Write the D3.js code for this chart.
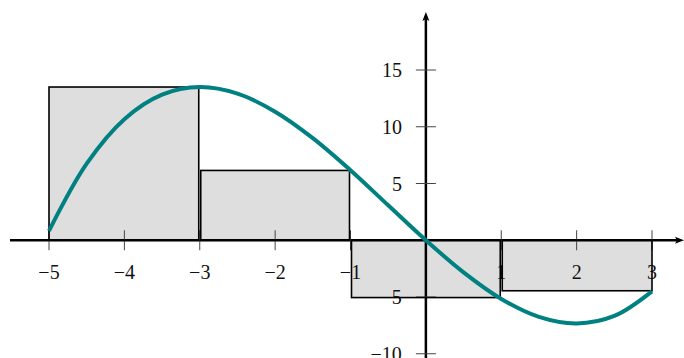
<!DOCTYPE html>
<html>
  <head>
    <meta charset='utf-8' />
    <title>Right Riemann sum</title>
    <style>
      body { margin: 0; background: white; }
      svg { display: block; }
    </style>
  </head>
<body>
  <svg id="chart" width="684" height="358"></svg>

  <script src="https://d3js.org/d3.v7.min.js"></script>
  <script>
    // curve samples
    const curveX = [-5, -4.5, -4, -3.5, -3, -2.5, -2, -1.5, -1, -0.5, 0, 0.5, 1, 1.5, 2, 2.5, 3];
    const curveY = [0.83, 6.75, 10.67, 12.83, 13.5, 12.92, 11.33, 9.0, 6.17, 3.08, 0, -2.83, -5.17, -6.75, -7.33, -6.67, -4.5];

    // rectangles
    const barStart = [-5, -3, -1, 1];
    const barEnd = [-3, -1, 1, 3];
    const barHeight = [13.5, 6.15, -5.05, -4.45];

    const xTicks = [-5, -4, -3, -2, -1, 1, 2, 3];
    const yTicks = [-10, -5, 5, 10, 15];

    const labelFont = "'Liberation Serif', 'Times New Roman', serif";

    const svg = d3.select("#chart");

    const xScale = d3.scaleLinear().domain([-5, 3]).range([49, 652]);
    const yScale = d3.scaleLinear().domain([-5, 15]).range([297, 70]);
    const x0 = xScale(0), y0 = yScale(0);

    const bars = barStart.map((s, i) => ({ s: s, e: barEnd[i], h: barHeight[i], i: i }));

    // left/right inset so neighbouring boxes show a double edge
    const bx = d => xScale(d.s) + (d.i > 0 ? 1 : 0);
    const bw = d => xScale(d.e) - (d.i < bars.length - 1 ? 1 : 0) - bx(d);
    const by = d => Math.min(yScale(d.h), y0);
    const bh = d => Math.abs(yScale(d.h) - y0);

    // fills first
    svg.append("g").selectAll("rect")
      .data(bars)
      .enter()
      .append("rect")
      .attr("x", bx)
      .attr("y", by)
      .attr("width", bw)
      .attr("height", bh)
      .attr("fill", "#dedede");

    // x axis
    const xAxis = svg.append("g").attr("transform", "translate(0," + y0 + ")");
    xAxis.append("line")
      .attr("x1", 10).attr("x2", 680)
      .attr("stroke", "black").attr("stroke-width", 2.5);
    xAxis.append("path")
      .attr("d", "M684,0 L675,-3.5 L677,0 L675,3.5 Z")
      .attr("fill", "black");
    xAxis.selectAll(".tick")
      .data(xTicks)
      .enter()
      .append("line")
      .attr("x1", d => xScale(d)).attr("x2", d => xScale(d))
      .attr("y1", -10).attr("y2", 10)
      .attr("stroke", "#444").attr("stroke-width", 1);
    xAxis.selectAll("text")
      .data(xTicks)
      .enter()
      .append("text")
      .attr("font-family", labelFont)
      .attr("font-size", 20)
      .attr("fill", "#111")
      .attr("x", d => xScale(d))
      .attr("y", 32)
      .attr("dy", "0.35em")
      .attr("text-anchor", "middle")
      .text(d => d3.format("d")(d));

    // y axis
    const yAxis = svg.append("g").attr("transform", "translate(" + x0 + ",0)");
    yAxis.append("line")
      .attr("y1", 16).attr("y2", 358)
      .attr("stroke", "black").attr("stroke-width", 2.5);
    yAxis.append("path")
      .attr("d", "M0,12 L-3.5,21 L0,19 L3.5,21 Z")
      .attr("fill", "black");
    yAxis.selectAll(".tick")
      .data(yTicks)
      .enter()
      .append("line")
      .attr("y1", d => yScale(d)).attr("y2", d => yScale(d))
      .attr("x1", -10).attr("x2", 10)
      .attr("stroke", "#444").attr("stroke-width", 1);
    yAxis.selectAll("text")
      .data(yTicks)
      .enter()
      .append("text")
      .attr("font-family", labelFont)
      .attr("font-size", 20)
      .attr("fill", "#111")
      .attr("x", -24)
      .attr("y", d => yScale(d))
      .attr("dy", "0.35em")
      .attr("text-anchor", "end")
      .text(d => d3.format("d")(d));

    // box outlines on top of the labels
    svg.append("g").selectAll("rect")
      .data(bars)
      .enter()
      .append("rect")
      .attr("x", bx)
      .attr("y", by)
      .attr("width", bw)
      .attr("height", bh)
      .attr("fill", "none")
      .attr("stroke", "black")
      .attr("stroke-width", 1.6);

    // the function
    const line = d3.line()
      .x((d, i) => xScale(curveX[i]))
      .y(d => yScale(d))
      .curve(d3.curveCatmullRom);

    svg.append("path")
      .datum(curveY)
      .attr("d", line)
      .attr("fill", "none")
      .attr("stroke", "#008080")
      .attr("stroke-width", 4);
  </script>
</body>
</html>
